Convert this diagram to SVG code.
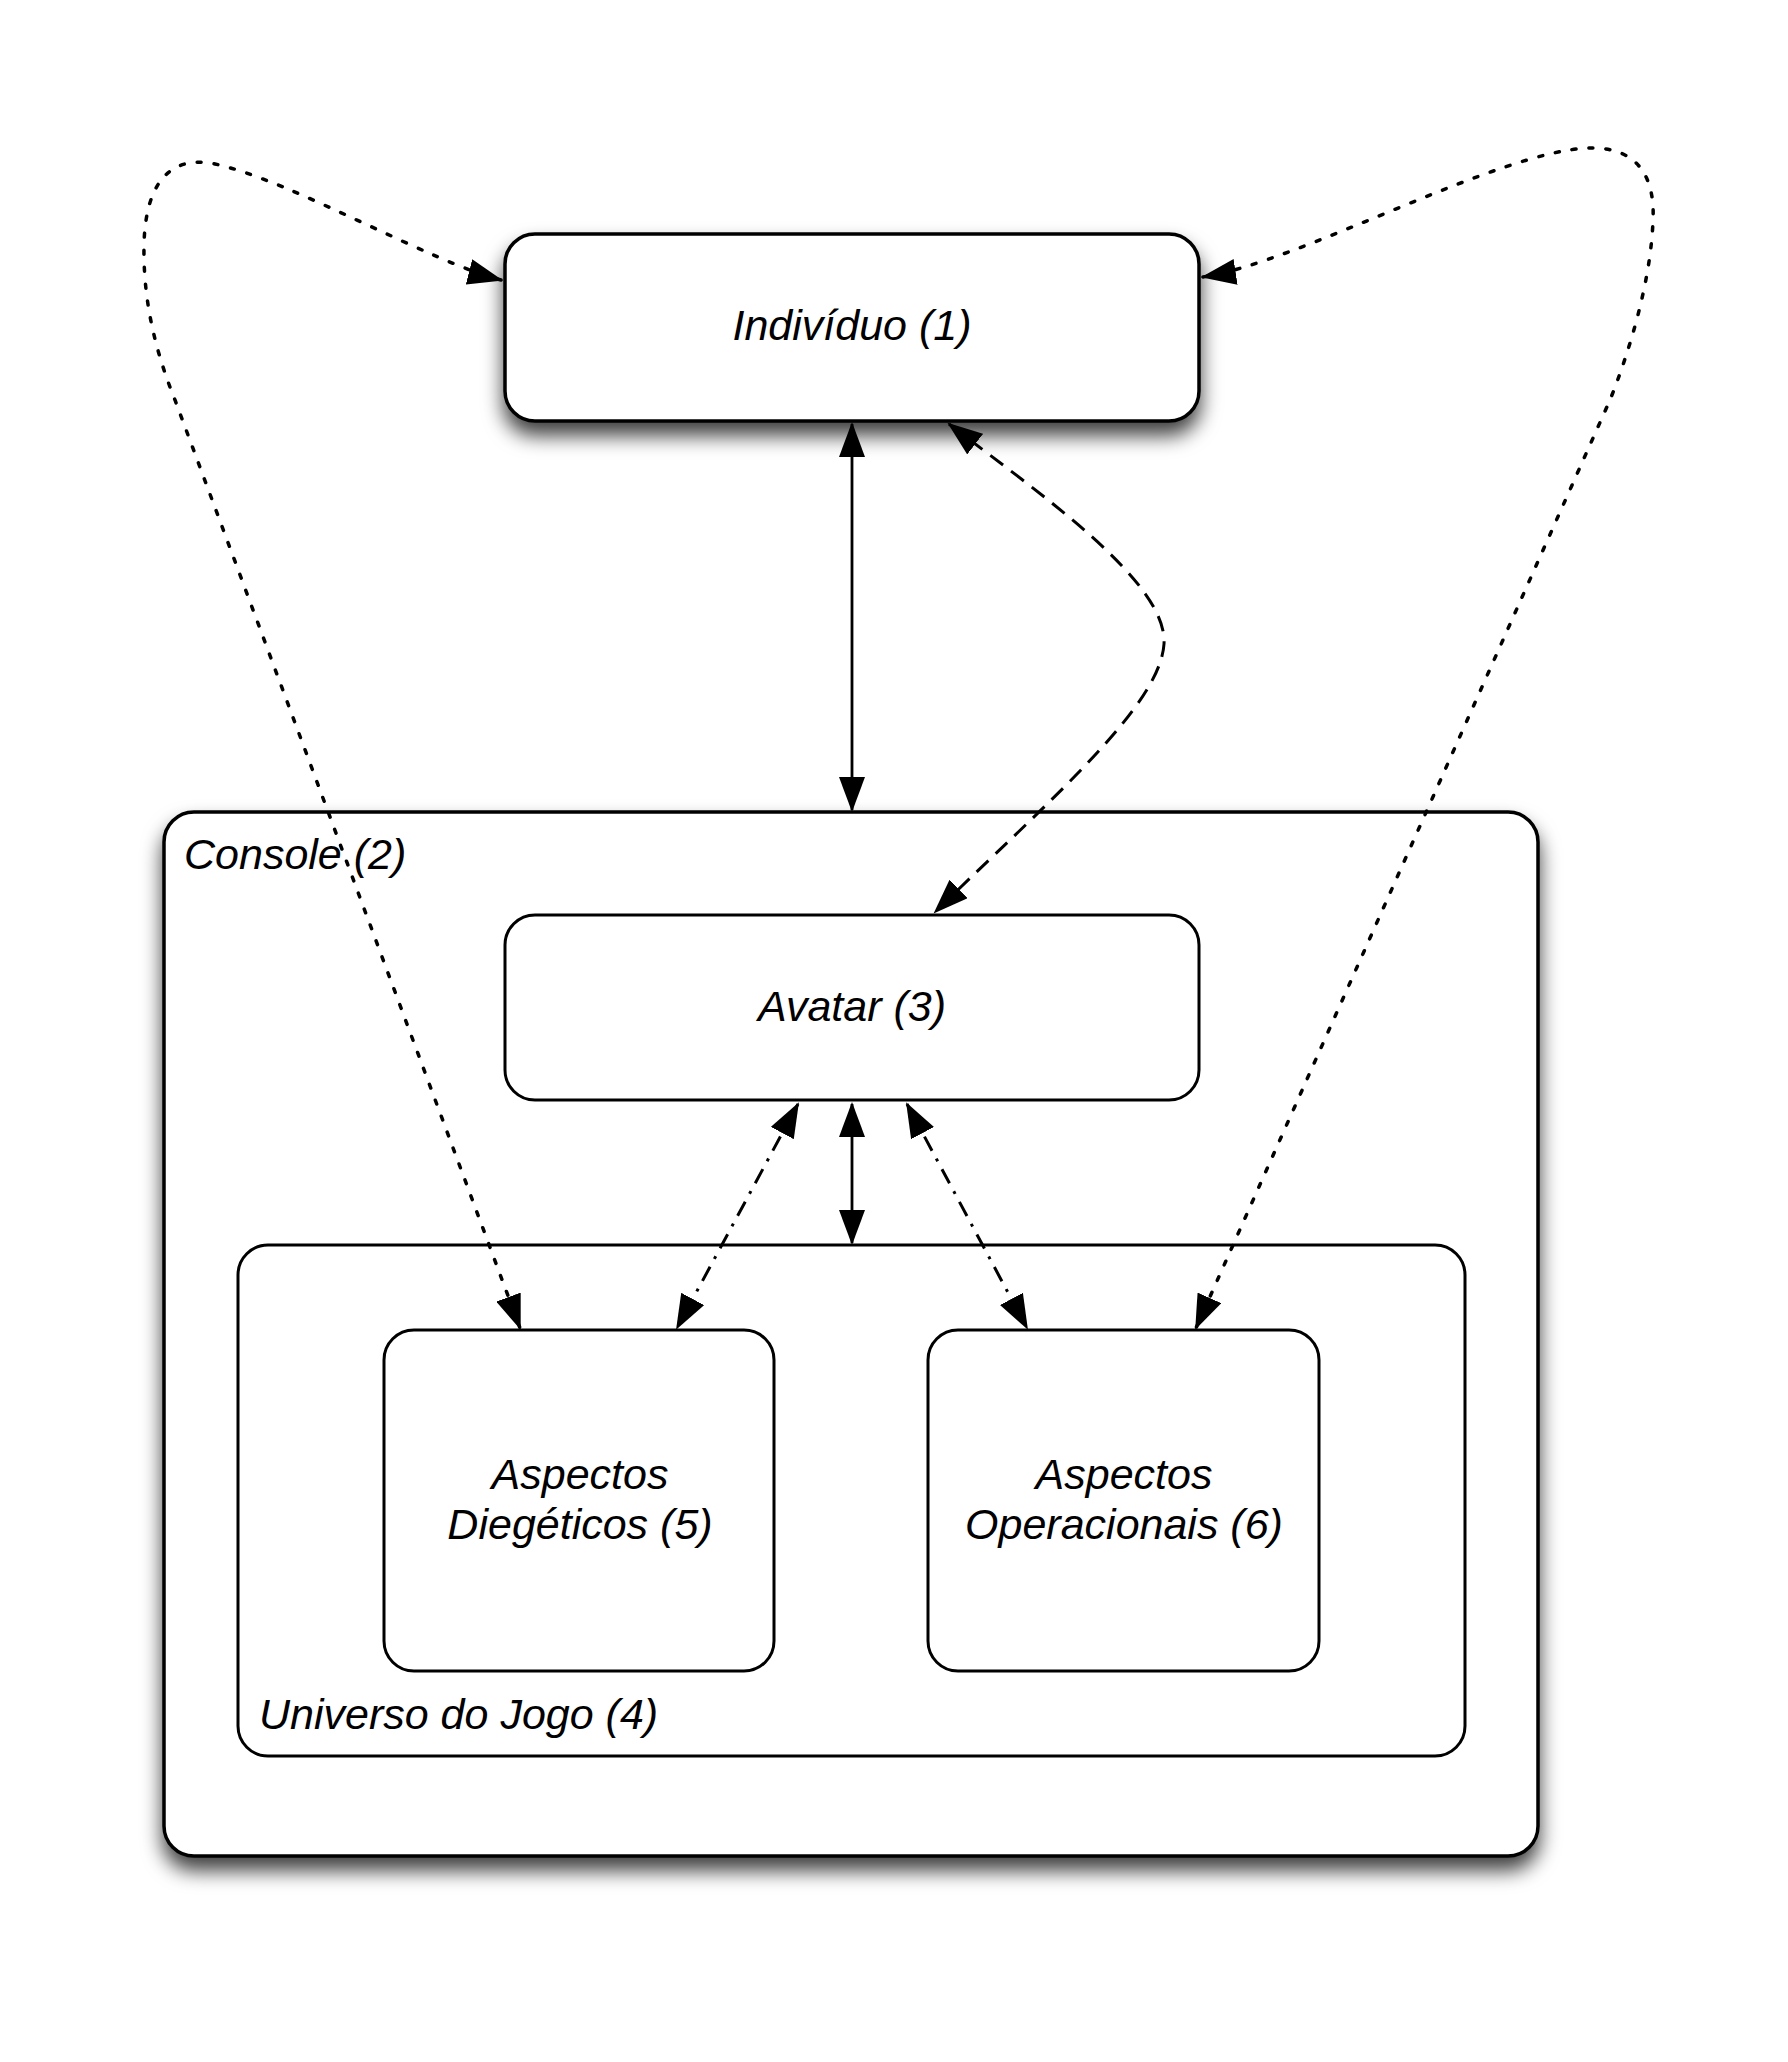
<svg xmlns="http://www.w3.org/2000/svg" width="1788" height="2062" viewBox="0 0 1788 2062">
<defs>
<style>
.box{fill:#fff;stroke:#000;stroke-width:3}
.main{stroke-width:3.5}
.lbl{font-family:"Liberation Sans",Arial,Helvetica,sans-serif;font-style:italic;font-size:43px;fill:#000}
.mid{text-anchor:middle}
.con{fill:none;stroke:#000;stroke-width:2.8;marker-start:url(#ah);marker-end:url(#ah)}
.dash{stroke-dasharray:16 10;stroke-width:3}
.dot{stroke-dasharray:4 13;stroke-linecap:round;stroke-width:3.5}
.dashdot{stroke-dasharray:16 9 3 9;stroke-width:3}
</style>
<filter id="sh" x="-10%" y="-10%" width="120%" height="140%">
<feDropShadow dx="0" dy="13" stdDeviation="10" flood-color="#000" flood-opacity="0.75"/>
</filter>
<marker id="ah" markerUnits="userSpaceOnUse" markerWidth="36" markerHeight="26" viewBox="0 0 36 26" refX="33" refY="13" orient="auto-start-reverse">
<path d="M0,0 L35,13 L0,26 z" fill="#000"/>
</marker>
</defs>

<g id="console">
<rect class="box main" x="164" y="812" width="1374" height="1044" rx="30" ry="30" filter="url(#sh)"/>
<text class="lbl" x="184" y="869">Console (2)</text>
</g>

<g id="universo">
<rect class="box" x="238" y="1245" width="1227" height="511" rx="30" ry="30"/>
<text class="lbl" x="259" y="1729">Universo do Jogo (4)</text>
</g>

<g id="avatar">
<rect class="box" x="505" y="915" width="694" height="185" rx="30" ry="30"/>
<text class="lbl mid" x="852" y="1021">Avatar (3)</text>
</g>

<g id="diegeticos">
<rect class="box" x="384" y="1330" width="390" height="341" rx="30" ry="30"/>
<text class="lbl mid" x="580" y="1489">Aspectos</text>
<text class="lbl mid" x="580" y="1539">Diegéticos (5)</text>
</g>

<g id="operacionais">
<rect class="box" x="928" y="1330" width="391" height="341" rx="30" ry="30"/>
<text class="lbl mid" x="1124" y="1489">Aspectos</text>
<text class="lbl mid" x="1124" y="1539">Operacionais (6)</text>
</g>

<g id="individuo">
<rect class="box main" x="505" y="234" width="694" height="187" rx="30" ry="30" filter="url(#sh)"/>
<text class="lbl mid" x="852" y="340">Indivíduo (1)</text>
</g>

<g id="connectors">
<path class="con" d="M852,424 L852,810"/>
<path class="con" d="M852,1104 L852,1243"/>
<path class="con dash" d="M949,424 C1040,494 1168,582 1164,644 C1160,706 1050,800 935,912"/>
<path class="con dot" d="M501,280 C430,262 290,180 215,164 C162,153 145,195 144,245 C143,300 155,350 175,400 L520,1328"/>
<path class="con dot" d="M1203,277 C1300,262 1500,150 1590,148 C1640,147 1655,180 1653,220 C1651,280 1630,350 1610,400 L1196,1328"/>
<path class="con dashdot" d="M798,1104 L677,1328"/>
<path class="con dashdot" d="M907,1104 L1027,1328"/>
</g>
</svg>
